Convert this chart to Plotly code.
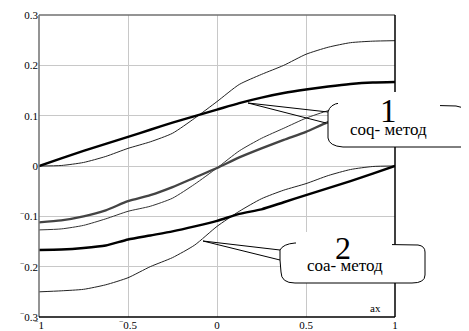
import plotly.graph_objects as go

# ---------------- data ----------------
x_vals = [-1, -0.875, -0.75, -0.625, -0.5, -0.375, -0.25, -0.125, 0,
          0.125, 0.25, 0.375, 0.5, 0.625, 0.75, 0.875, 1]

upper_thick = [0, 0.015, 0.03, 0.044, 0.058, 0.072, 0.086, 0.099, 0.112,
               0.125, 0.136, 0.145, 0.152, 0.158, 0.163, 0.166, 0.167]
upper_thin = [0, 0.001, 0.007, 0.019, 0.035, 0.048, 0.065, 0.095, 0.128,
              0.162, 0.182, 0.2, 0.222, 0.236, 0.245, 0.248, 0.249]
mid_thick = [-0.112, -0.108, -0.1, -0.088, -0.07, -0.058, -0.042, -0.023, -0.004,
             0.017, 0.035, 0.052, 0.068, 0.087, 0.1, 0.108, 0.112]
mid_thin = [-0.127, -0.125, -0.118, -0.105, -0.09, -0.08, -0.064, -0.036, -0.004,
            0.03, 0.055, 0.075, 0.095, 0.11, 0.12, 0.125, 0.127]
lower_thick = [-0.167, -0.166, -0.163, -0.158, -0.146, -0.138, -0.13, -0.12, -0.109,
               -0.095, -0.086, -0.072, -0.058, -0.044, -0.03, -0.015, 0]
lower_thin = [-0.25, -0.248, -0.245, -0.236, -0.222, -0.2, -0.182, -0.157, -0.12,
              -0.09, -0.065, -0.048, -0.035, -0.019, -0.007, -0.001, 0]

MINUS = "<sup>\u2212</sup>"
x_tickvals = [-1, -0.5, 0, 0.5, 1]
x_ticktext = [MINUS + "1", MINUS + "0.5", "0", "0.5", "1"]
y_tickvals = [-0.3, -0.2, -0.1, 0, 0.1, 0.2, 0.3]
y_ticktext = [MINUS + "0.3", MINUS + "0.2", MINUS + "0.1", "0", "0.1", "0.2", "0.3"]

label1_num, label1_txt = "1", "соq- метод"
label2_num, label2_txt = "2", "соа- метод"
axis_label = "ax"

# ---------------- figure ----------------
# page body has an 8px margin, so the figure is sized/offset to compensate
OFF = 8
PAGE_W, PAGE_H = 469, 331
W, H = PAGE_W - OFF, PAGE_H - OFF
# plot area in page pixels: left 39, top 15, right 395, bottom 317
L = 39 - OFF
T = 15 - OFF
R = W - (395 - OFF)
B = H - (317 - OFF)
PW, PH = W - L - R, H - T - B


def px(xp):  # page pixel -> paper
    return (xp - OFF - L) / PW


def py(yp):
    return (H - B - (yp - OFF)) / PH


SERIF = "Liberation Serif"

fig = go.Figure()

series = [
    (upper_thin, "#222222", 1.0),
    (mid_thin, "#333333", 1.0),
    (lower_thin, "#222222", 1.0),
    (upper_thick, "#000000", 2.4),
    (mid_thick, "#444444", 2.4),
    (lower_thick, "#000000", 2.4),
]
for ys, col, w in series:
    fig.add_trace(go.Scatter(x=x_vals, y=ys, mode="lines",
                             line=dict(color=col, width=w, shape="spline", smoothing=0.6),
                             showlegend=False, hoverinfo="skip"))

shapes = []
# frame
shapes.append(dict(type="line", xref="paper", yref="paper", x0=0, x1=0, y0=0, y1=1,
                   line=dict(color="#707070", width=1.5), layer="above"))
shapes.append(dict(type="line", xref="paper", yref="paper", x0=0, x1=1, y0=1, y1=1,
                   line=dict(color="#707070", width=1.5), layer="above"))
shapes.append(dict(type="line", xref="paper", yref="paper", x0=1, x1=1, y0=0, y1=1,
                   line=dict(color="#000000", width=1.5), layer="above"))
shapes.append(dict(type="line", xref="paper", yref="paper", x0=0, x1=1, y0=0, y1=0,
                   line=dict(color="#000000", width=1.5), layer="above"))


def path(points_cmds):
    out = []
    for cmd in points_cmds:
        c = cmd[0]
        nums = cmd[1:]
        conv = []
        for i in range(0, len(nums), 2):
            conv.append(f"{px(nums[i]):.5f},{py(nums[i+1]):.5f}")
        out.append(c + " " + " ".join(conv))
    return " ".join(out)


# callout 1 bubble
b1 = path([("M", 328, 112), ("Q", 330, 104, 340, 103), ("L", 456, 106),
           ("Q", 468, 108, 472, 116), ("L", 472, 147), ("L", 343, 147),
           ("Q", 329, 146, 328, 138), ("L", 328, 123), ("Z",)])
shapes.append(dict(type="path", xref="paper", yref="paper", path=b1,
                   fillcolor="white", line=dict(color="black", width=1), layer="above"))
shapes.append(dict(type="rect", xref="paper", yref="paper", x0=px(338), x1=px(440),
                   y0=py(111), y1=py(92), fillcolor="white", line=dict(width=0), layer="above"))
# leaders 1
for ex, ey in [(328, 112), (326, 123)]:
    shapes.append(dict(type="line", xref="paper", yref="paper", x0=px(248), y0=py(103),
                       x1=px(ex), y1=py(ey), line=dict(color="black", width=1), layer="above"))

# callout 2 bubble
b2 = path([("M", 280, 250), ("Q", 283, 244, 295, 243), ("L", 418, 245),
           ("Q", 425, 246, 425, 252), ("L", 425, 275), ("Q", 425, 283, 412, 283),
           ("L", 295, 283), ("Q", 281, 283, 281, 272), ("L", 280, 260), ("Z",)])
shapes.append(dict(type="path", xref="paper", yref="paper", path=b2,
                   fillcolor="white", line=dict(color="black", width=1), layer="above"))
shapes.append(dict(type="rect", xref="paper", yref="paper", x0=px(296), x1=px(392),
                   y0=py(249), y1=py(232), fillcolor="white", line=dict(width=0), layer="above"))
for ex, ey in [(280, 250), (280, 260)]:
    shapes.append(dict(type="line", xref="paper", yref="paper", x0=px(203), y0=py(241),
                       x1=px(ex), y1=py(ey), line=dict(color="black", width=1), layer="above"))

annotations = [
    dict(text=label1_num, x=px(388), y=py(111), xref="paper", yref="paper",
         showarrow=False, font=dict(family=SERIF, size=33, color="black"),
         xanchor="center", yanchor="middle"),
    dict(text=label1_txt, x=px(388), y=py(129), xref="paper", yref="paper",
         showarrow=False, font=dict(family=SERIF, size=17, color="black"),
         xanchor="center", yanchor="middle"),
    dict(text=label2_num, x=px(343), y=py(248), xref="paper", yref="paper",
         showarrow=False, font=dict(family=SERIF, size=32, color="black"),
         xanchor="center", yanchor="middle"),
    dict(text=label2_txt, x=px(345), y=py(265), xref="paper", yref="paper",
         showarrow=False, font=dict(family=SERIF, size=17, color="black"),
         xanchor="center", yanchor="middle"),
    dict(text=axis_label, x=px(375), y=py(308), xref="paper", yref="paper",
         showarrow=False, font=dict(family=SERIF, size=11, color="black"),
         xanchor="center", yanchor="middle"),
]

fig.update_layout(
    width=W, height=H,
    margin=dict(l=L, r=R, t=T, b=B, pad=0, autoexpand=False),
    paper_bgcolor="white", plot_bgcolor="white",
    shapes=shapes, annotations=annotations,
    font=dict(family=SERIF, size=11, color="black"),
    xaxis=dict(range=[-1, 1], tickvals=x_tickvals, ticktext=x_ticktext, automargin=False,
               showgrid=True, gridcolor="#c8c8c8", gridwidth=1, zeroline=False,
               showline=False, ticks="", tickfont=dict(family=SERIF, size=11, color="black")),
    yaxis=dict(range=[-0.3, 0.3], tickvals=y_tickvals, ticktext=y_ticktext, automargin=False,
               showgrid=True, gridcolor="#c8c8c8", gridwidth=1, zeroline=False,
               showline=False, ticks="", tickfont=dict(family=SERIF, size=11, color="black")),
)

fig.write_html("out.html")
